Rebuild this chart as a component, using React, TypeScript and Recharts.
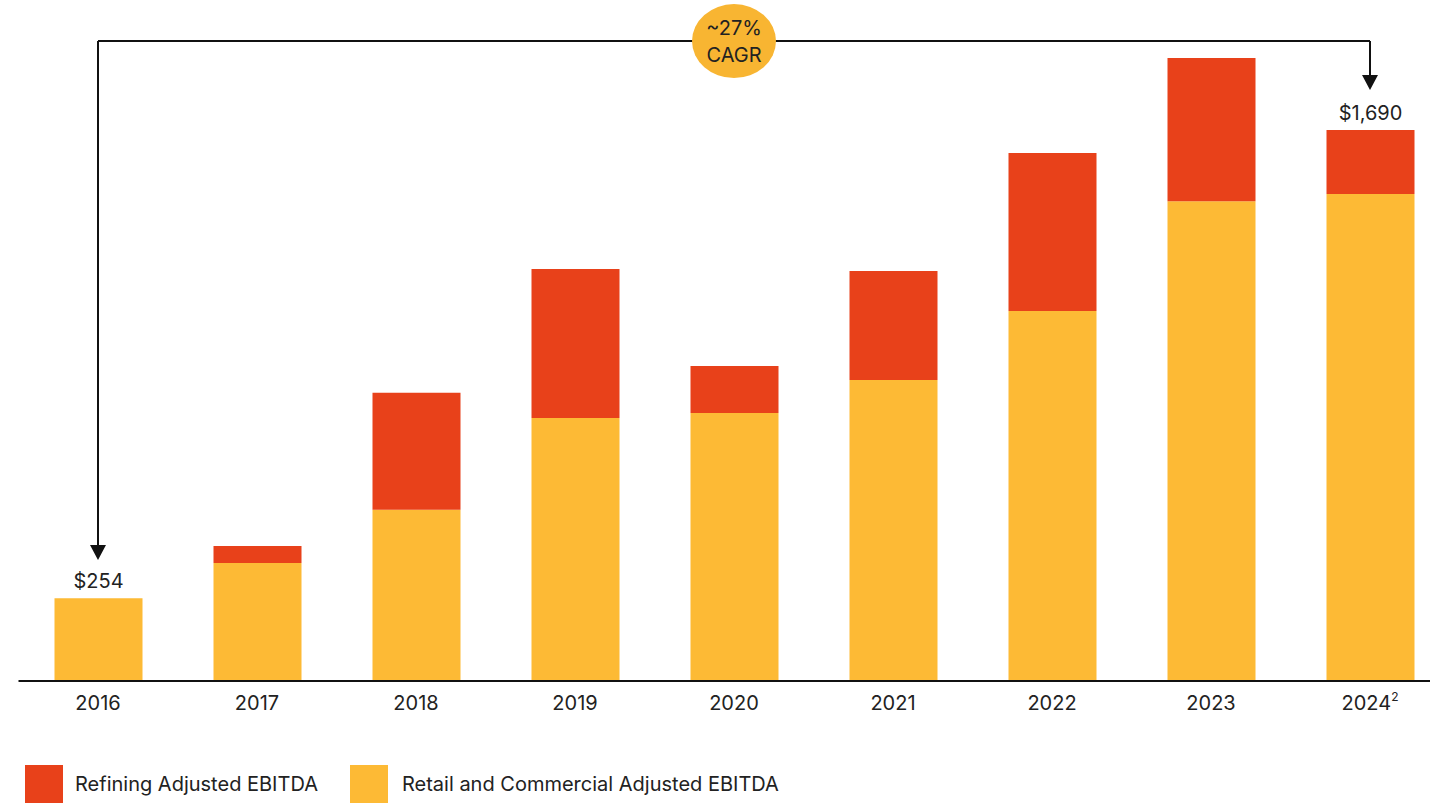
import React from 'react';
import { BarChart, Bar, XAxis, YAxis, ReferenceLine, ReferenceDot, LabelList } from 'recharts';

// Adjusted EBITDA, $ millions
const years = ['2016', '2017', '2018', '2019', '2020', '2021', '2022', '2023', '2024'];
const retailCommercial = [254, 362, 525, 807, 822, 923, 1135, 1472, 1494];
const refining = [0, 52, 359, 457, 144, 335, 485, 439, 196];
const totalLabels = ['$254', '', '', '', '', '', '', '', '$1,690'];
const superscripts: Record<string, string> = { '2024': '2' };

// CAGR annotation, in data units
const cagrText = ['~27%', 'CAGR'];
const cagrLevel = 1963;
const startArrowTip = 371;
const endArrowTip = 1813;

const RED = '#E8411A';
const YELLOW = '#FDBA35';
const BUBBLE = '#F8B532';
const INK = '#222222';

// total label sits on whichever segment is on top
const data = years.map((year, i) => ({
  year,
  retail: retailCommercial[i],
  refining: refining[i],
  retailLabel: refining[i] > 0 ? '' : totalLabels[i],
  refiningLabel: refining[i] > 0 ? totalLabels[i] : '',
}));

const plainLine = (p: any) => (
  <line x1={p.x1} y1={p.y1} x2={p.x2} y2={p.y2} stroke="#111" strokeWidth={2} />
);

const arrowLine = (p: any) => {
  const { x1, y1, x2, y2 } = p;
  return (
    <g>
      <line x1={x1} y1={y1} x2={x2} y2={y2 - 12} stroke="#111" strokeWidth={2} />
      <path d={`M${x2 - 8},${y2 - 15} L${x2 + 8},${y2 - 15} L${x2},${y2} Z`} fill="#111" />
    </g>
  );
};

const bubble = (p: any) => (
  <g>
    <ellipse cx={p.cx} cy={p.cy} rx={42} ry={37} fill={BUBBLE} />
    <text x={p.cx} y={p.cy - 6} textAnchor="middle" fontSize={20} fill={INK}>{cagrText[0]}</text>
    <text x={p.cx} y={p.cy + 21} textAnchor="middle" fontSize={20} fill={INK}>{cagrText[1]}</text>
  </g>
);

const YearTick = (props: any) => {
  const { x, y, payload } = props;
  const sup = superscripts[payload.value];
  return (
    <text x={x} y={y + 21} textAnchor="middle" fontSize={20} fill={INK}>
      {payload.value}
      {sup && <tspan fontSize={12} dy={-9}>{sup}</tspan>}
    </text>
  );
};

const TotalLabel = (props: any) => {
  const { x, y, width, value } = props;
  if (!value) return null;
  return (
    <text x={x + width / 2} y={y - 10} textAnchor="middle" fontSize={20} fill={INK}>{value}</text>
  );
};

export default function App() {
  return (
    <div style={{ position: 'absolute', left: 0, top: 0, width: 1430, height: 803, overflow: 'hidden', background: '#fff', fontFamily: 'Inter, sans-serif' }}>
      <BarChart width={1460} height={803} data={data} margin={{ top: 29, right: 10.5, left: 18.5, bottom: 82 }}>
        <XAxis
          dataKey="year"
          height={40}
          tickLine={false}
          axisLine={{ stroke: '#111', strokeWidth: 2 }}
          tick={<YearTick />}
          interval={0}
        />
        <YAxis hide domain={[0, 2000]} />
        <Bar dataKey="retail" stackId="a" fill={YELLOW} barSize={88} isAnimationActive={false}>
          <LabelList dataKey="retailLabel" content={<TotalLabel />} />
        </Bar>
        <Bar dataKey="refining" stackId="a" fill={RED} barSize={88} isAnimationActive={false}>
          <LabelList dataKey="refiningLabel" content={<TotalLabel />} />
        </Bar>
        <ReferenceLine segment={[{ x: years[0], y: cagrLevel }, { x: years[8], y: cagrLevel }]} shape={plainLine} />
        <ReferenceLine segment={[{ x: years[0], y: cagrLevel }, { x: years[0], y: startArrowTip }]} shape={arrowLine} />
        <ReferenceLine segment={[{ x: years[8], y: cagrLevel }, { x: years[8], y: endArrowTip }]} shape={arrowLine} />
        <ReferenceDot x={years[4]} y={cagrLevel} shape={bubble} />
      </BarChart>
      <div style={{ position: 'absolute', top: 765, left: 25, display: 'flex', alignItems: 'center', fontSize: 20, color: INK }}>
        <span style={{ width: 38, height: 38, background: RED, display: 'inline-block' }} />
        <span style={{ marginLeft: 12, marginRight: 32 }}>Refining Adjusted EBITDA</span>
        <span style={{ width: 38, height: 38, background: YELLOW, display: 'inline-block' }} />
        <span style={{ marginLeft: 14 }}>Retail and Commercial Adjusted EBITDA</span>
      </div>
    </div>
  );
}
